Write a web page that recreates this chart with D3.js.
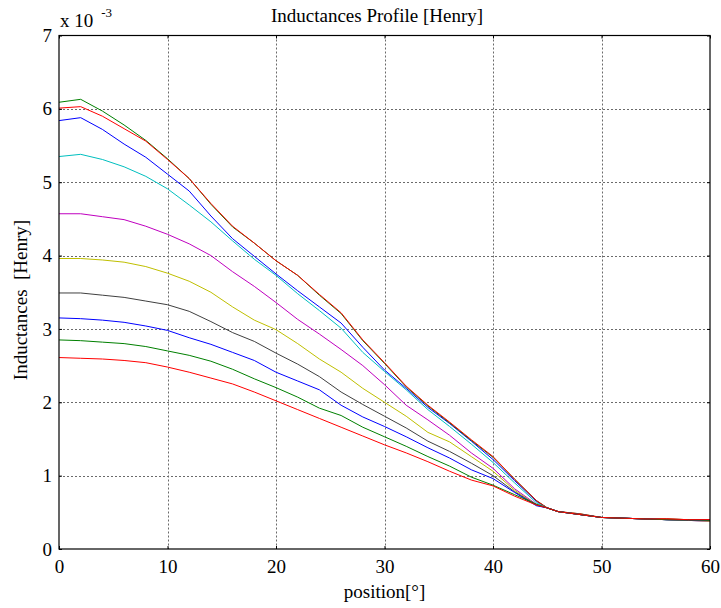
<!DOCTYPE html>
<html>
<head>
<meta charset="utf-8">
<script src="https://cdn.jsdelivr.net/npm/d3@7"></script>
<style>
  html, body { margin: 0; padding: 0; background: #fff; }
  svg { display: block; }
  text { font-family: "Liberation Serif", "Times New Roman", serif; fill: #000; }
</style>
</head>
<body>
<svg id="chart" width="721" height="608"></svg>
<script>
// Rotor position in degrees (shared by every curve)
const positions = [0,2,4,6,8,10,12,14,16,18,20,22,24,26,28,30,32,34,36,38,40,42,44,45,46,48,50,52,54,56,58,60];

// Inductance curves, in units of 1e-3 H, one per excitation level
const seriesA = [5.84,5.88,5.72,5.52,5.34,5.11,4.88,4.54,4.23,3.99,3.75,3.52,3.30,3.08,2.75,2.44,2.19,1.93,1.71,1.47,1.22,0.93,0.65,0.56,0.51,0.47,0.43,0.42,0.41,0.40,0.39,0.38];
const seriesB = [6.09,6.13,5.97,5.78,5.57,5.32,5.05,4.70,4.39,4.17,3.93,3.73,3.46,3.21,2.84,2.53,2.21,1.95,1.72,1.48,1.25,0.95,0.66,0.56,0.51,0.48,0.43,0.42,0.41,0.41,0.40,0.40];
const seriesC = [6.01,6.03,5.90,5.73,5.56,5.31,5.05,4.71,4.40,4.17,3.93,3.73,3.47,3.22,2.85,2.54,2.22,1.96,1.73,1.49,1.26,0.95,0.66,0.56,0.51,0.48,0.43,0.42,0.41,0.41,0.40,0.40];
const seriesD = [5.35,5.38,5.31,5.21,5.08,4.91,4.69,4.46,4.20,3.95,3.73,3.48,3.25,3.01,2.68,2.42,2.17,1.90,1.67,1.43,1.18,0.90,0.63,0.56,0.51,0.47,0.43,0.42,0.41,0.40,0.39,0.39];
const seriesE = [4.57,4.57,4.53,4.49,4.40,4.29,4.16,4.00,3.78,3.58,3.36,3.13,2.93,2.72,2.50,2.24,1.96,1.76,1.55,1.31,1.10,0.82,0.61,0.56,0.51,0.47,0.43,0.42,0.41,0.40,0.39,0.38];
const seriesF = [3.96,3.96,3.94,3.91,3.85,3.76,3.65,3.50,3.30,3.12,2.99,2.80,2.59,2.41,2.19,2.00,1.81,1.59,1.46,1.26,1.06,0.80,0.60,0.56,0.51,0.47,0.43,0.42,0.41,0.40,0.39,0.38];
const seriesG = [3.49,3.49,3.46,3.43,3.38,3.33,3.24,3.10,2.95,2.83,2.67,2.52,2.35,2.14,1.97,1.81,1.65,1.47,1.33,1.17,1.00,0.78,0.60,0.56,0.51,0.47,0.43,0.42,0.41,0.40,0.39,0.39];
const seriesH = [3.15,3.14,3.12,3.09,3.04,2.98,2.88,2.79,2.68,2.57,2.41,2.29,2.17,1.96,1.80,1.67,1.53,1.38,1.24,1.08,0.96,0.77,0.59,0.56,0.51,0.47,0.43,0.42,0.41,0.40,0.40,0.39];
const seriesI = [2.85,2.84,2.82,2.80,2.76,2.70,2.64,2.56,2.45,2.32,2.20,2.07,1.92,1.82,1.66,1.53,1.40,1.26,1.13,0.98,0.87,0.74,0.61,0.56,0.51,0.47,0.43,0.42,0.41,0.40,0.40,0.39];
const seriesJ = [2.61,2.60,2.59,2.57,2.54,2.48,2.41,2.33,2.25,2.14,2.02,1.90,1.78,1.66,1.54,1.42,1.31,1.19,1.06,0.94,0.86,0.72,0.60,0.56,0.51,0.47,0.43,0.42,0.41,0.41,0.40,0.40];

const allSeries = [seriesA, seriesB, seriesC, seriesD, seriesE, seriesF, seriesG, seriesH, seriesI, seriesJ];
const lineColors = ["#0000ff","#008000","#ff0000","#00bfbf","#bf00bf","#bfbf00","#404040","#0000ff","#008000","#ff0000"];

const xTicks = [0,10,20,30,40,50,60];
const yTicks = [0,1,2,3,4,5,6,7];

const titleText = "Inductances Profile [Henry]";
const xLabelText = "position[°]";
const yLabelText = "Inductances  [Henry]";

const serif = "'Liberation Serif', 'Times New Roman', serif";

// Axes box
const boxLeft = 59, boxRight = 710, boxTop = 35.5, boxBottom = 549;

const svg = d3.select("#chart");

const x = d3.scaleLinear().domain([0, 60]).range([boxLeft, boxRight]);
const y = d3.scaleLinear().domain([0, 7]).range([boxBottom, boxTop]);

// Dotted grid
const grid = svg.append("g").attr("class", "grid")
  .attr("stroke", "#6a6a6a").attr("stroke-width", 1).attr("stroke-dasharray", "2,2");
grid.selectAll("line.vx").data(xTicks.slice(1, -1)).join("line")
  .attr("x1", d => Math.round(x(d)) + 0.5).attr("x2", d => Math.round(x(d)) + 0.5)
  .attr("y1", boxTop).attr("y2", boxBottom);
grid.selectAll("line.hy").data(yTicks.slice(1, -1)).join("line")
  .attr("y1", d => Math.round(y(d)) + 0.5).attr("y2", d => Math.round(y(d)) + 0.5)
  .attr("x1", boxLeft).attr("x2", boxRight);

// Curves
const line = d3.line()
  .x((d, i) => x(positions[i]))
  .y(d => y(d));

svg.append("g").attr("class", "curves")
  .selectAll("path").data(allSeries).join("path")
  .attr("d", d => line(d))
  .attr("fill", "none")
  .attr("stroke", (d, i) => lineColors[i])
  .attr("stroke-width", 1)
  .attr("stroke-linejoin", "round");

// Axes with short inward ticks
const tickLen = 3;
const fmt = d3.format("d");
const xAxisB = d3.axisBottom(x).tickValues(xTicks).tickFormat(fmt).tickSizeInner(-tickLen).tickSizeOuter(0).tickPadding(11);
const xAxisT = d3.axisTop(x).tickValues(xTicks).tickSizeInner(-tickLen).tickSizeOuter(0).tickFormat("");
const yAxisL = d3.axisLeft(y).tickValues(yTicks).tickFormat(fmt).tickSizeInner(-tickLen).tickSizeOuter(0).tickPadding(7);
const yAxisR = d3.axisRight(y).tickValues(yTicks).tickSizeInner(-tickLen).tickSizeOuter(0).tickFormat("");

function styleAxis(g) {
  g.attr("font-family", null).attr("font-size", null);
  g.select(".domain").remove();
  g.selectAll(".tick line").attr("stroke", "#000");
  g.selectAll(".tick text").style("font-family", serif)
    .style("font-size", "19px").attr("fill", "#000");
}

svg.append("g").attr("transform", `translate(0,${boxBottom})`).call(xAxisB).call(styleAxis);
svg.append("g").attr("transform", `translate(0,${boxTop})`).call(xAxisT).call(styleAxis);
svg.append("g").attr("transform", `translate(${boxLeft},0)`).call(yAxisL).call(styleAxis);
svg.append("g").attr("transform", `translate(${boxRight},0)`).call(yAxisR).call(styleAxis);

// Axes frame
svg.append("rect")
  .attr("x", boxLeft).attr("y", boxTop)
  .attr("width", boxRight - boxLeft).attr("height", boxBottom - boxTop)
  .attr("fill", "none").attr("stroke", "#000").attr("stroke-width", 1.2);

// Exponent marker
const expo = svg.append("text").attr("x", boxLeft + 1).attr("y", 27).style("font-size", "19px");
expo.append("tspan").text("x 10");
expo.append("tspan").attr("dy", -10).attr("dx", 8).style("font-size", "13px").text("-3");

// Title and axis labels
svg.append("text").attr("x", 377).attr("y", 22)
  .attr("text-anchor", "middle").style("font-size", "19px").text(titleText);

svg.append("text").attr("x", x(30)).attr("y", 598)
  .attr("text-anchor", "middle").style("font-size", "19px").text(xLabelText);

svg.append("text")
  .attr("transform", `translate(27,300) rotate(-90)`)
  .attr("text-anchor", "middle").style("font-size", "19px")
  .style("white-space", "pre")
  .text(yLabelText);
</script>
</body>
</html>
